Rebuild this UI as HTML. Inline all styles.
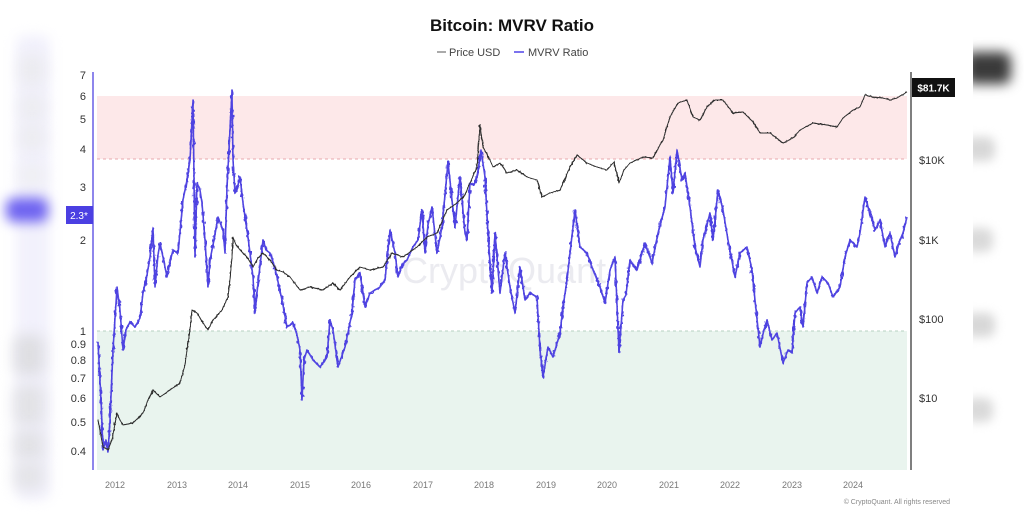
<!DOCTYPE html>
<html><head><meta charset="utf-8"><style>
html,body{margin:0;padding:0;background:#fff;}
body{width:1024px;height:517px;position:relative;overflow:hidden;font-family:"Liberation Sans",sans-serif;}
.b{position:absolute;border-radius:8px;}
svg{position:absolute;left:0;top:0;}
</style></head><body>
<!-- blurred left strip -->
<div class="b" style="left:16px;top:35px;width:34px;height:465px;background:#f2f1fc;filter:blur(6px);"></div>
<div class="b" style="left:20px;top:55px;width:24px;height:30px;background:#ebebef;filter:blur(7px);"></div>
<div class="b" style="left:20px;top:95px;width:24px;height:25px;background:#ececf0;filter:blur(7px);"></div>
<div class="b" style="left:20px;top:125px;width:24px;height:25px;background:#ececf0;filter:blur(7px);"></div>
<div class="b" style="left:20px;top:165px;width:24px;height:20px;background:#efeff2;filter:blur(7px);"></div>
<div class="b" style="left:6px;top:198px;width:42px;height:24px;background:#6e63f0;filter:blur(6px);"></div>
<div class="b" style="left:14px;top:335px;width:30px;height:40px;background:#dedee2;filter:blur(7px);"></div>
<div class="b" style="left:14px;top:385px;width:30px;height:40px;background:#e2e2e6;filter:blur(7px);"></div>
<div class="b" style="left:14px;top:430px;width:30px;height:30px;background:#e2e2e6;filter:blur(7px);"></div>
<div class="b" style="left:14px;top:462px;width:30px;height:28px;background:#e4e4e8;filter:blur(7px);"></div>
<!-- blurred right blobs -->
<div style="position:absolute;left:973px;top:0;width:51px;height:517px;overflow:hidden;">
<div class="b" style="left:-8px;top:52px;width:46px;height:32px;background:#3a3a3a;filter:blur(6px);"></div>
<div class="b" style="left:-8px;top:137px;width:30px;height:24px;background:#d8d8d8;filter:blur(5px);"></div>
<div class="b" style="left:-8px;top:228px;width:28px;height:24px;background:#dadada;filter:blur(5px);"></div>
<div class="b" style="left:-8px;top:313px;width:30px;height:24px;background:#d8d8d8;filter:blur(5px);"></div>
<div class="b" style="left:-8px;top:398px;width:28px;height:24px;background:#dadada;filter:blur(5px);"></div>
</div>
<svg width="1024" height="517" viewBox="0 0 1024 517" xmlns="http://www.w3.org/2000/svg">
<defs>
<clipPath id="pc"><rect x="96" y="70" width="812" height="401"/></clipPath>
<filter id="jb" filterUnits="userSpaceOnUse" x="80" y="60" width="850" height="420">
<feTurbulence type="fractalNoise" baseFrequency="0.35 0.2" numOctaves="2" seed="7" result="n"/>
<feDisplacementMap in="SourceGraphic" in2="n" scale="5" xChannelSelector="R" yChannelSelector="G"/>
</filter>
<filter id="jk" filterUnits="userSpaceOnUse" x="80" y="60" width="850" height="420">
<feTurbulence type="fractalNoise" baseFrequency="0.4 0.25" numOctaves="2" seed="3" result="n"/>
<feDisplacementMap in="SourceGraphic" in2="n" scale="3" xChannelSelector="R" yChannelSelector="G"/>
</filter>
<polyline id="pb" fill="none" stroke-linejoin="round" points="98,342 101,400 103,450 106,440 108,452 110,420 113,350 117,287 120,310 123,350 126,330 130,322 135,327 140,318 143,293 147,275 150,257 153,228 155,287 158,255 160,243 164,262 167,277 170,262 173,250 178,253 183,200 187,180 190,160 193,100 195,257 197,183 200,190 202,203 205,240 208,287 210,260 214,240 218,217 223,230 225,253 227,187 230,130 232,90 233,160 235,193 238,185 240,177 243,203 248,237 253,277 255,313 258,283 263,240 266,250 270,253 274,265 277,277 282,300 287,327 293,323 297,335 300,350 302,400 304,360 307,350 313,360 320,367 327,357 330,320 333,330 338,367 345,347 352,313 355,280 360,273 365,307 370,293 375,290 380,287 385,280 390,230 395,253 398,277 402,265 407,260 413,247 418,240 422,210 425,253 428,225 432,207 437,253 442,227 448,162 452,200 455,227 460,177 465,233 467,240 470,183 474,185 477,177 481,150 485,177 488,233 492,293 495,233 500,293 505,253 510,287 515,313 520,267 525,300 530,293 537,297 540,350 543,377 548,347 553,357 560,333 563,307 567,280 570,253 575,210 580,247 587,253 593,270 600,287 605,303 610,270 615,257 619,352 623,300 626,295 630,260 637,270 645,243 652,263 658,233 665,207 670,157 673,193 677,150 682,180 685,173 690,207 695,247 700,267 703,240 710,213 713,240 718,190 723,210 728,240 735,277 740,253 747,247 752,270 755,300 760,347 764,330 767,320 772,340 777,333 783,363 788,350 792,353 795,313 800,307 803,327 807,283 812,277 817,293 822,277 828,283 833,297 840,287 845,257 850,240 857,247 860,233 865,197 870,213 875,230 880,220 885,247 890,233 895,257 900,240 903,233 907,217"/>
<polyline id="pk" fill="none" stroke-linejoin="round" points="98,420 103,447 108,450 112,440 117,413 120,420 123,425 133,423 143,413 148,400 153,390 160,397 170,390 180,383 185,365 187,350 190,330 192,310 197,313 203,323 208,330 213,320 222,310 228,297 230,280 232,257 233,237 236,245 240,250 247,257 253,267 258,258 263,253 270,260 277,270 283,272 290,277 300,290 310,287 323,290 333,283 340,290 350,277 360,267 370,270 383,267 392,253 403,257 417,247 427,237 437,233 447,210 457,203 465,195 470,183 477,167 480,125 483,147 490,160 493,167 500,163 507,173 517,170 527,177 537,180 542,197 550,193 560,190 570,167 577,155 587,163 597,167 607,170 614,162 619,183 624,170 630,163 643,157 653,158 660,145 663,140 670,117 678,103 687,100 693,117 700,120 707,107 715,100 723,100 733,113 743,112 753,122 760,133 770,133 783,143 793,138 800,130 813,123 827,125 837,127 843,118 853,110 860,107 865,95 873,97 883,98 890,100 897,98 902,95 907,92"/>
</defs>
<text x="512" y="31" text-anchor="middle" font-family="Liberation Sans, sans-serif" font-weight="bold" font-size="17" fill="#111">Bitcoin: MVRV Ratio</text>
<line x1="437" y1="52" x2="446" y2="52" stroke="#aaa" stroke-width="2"/>
<text x="449" y="56" font-family="Liberation Sans, sans-serif" font-size="11" fill="#444">Price USD</text>
<line x1="514" y1="52" x2="524" y2="52" stroke="#7b72ee" stroke-width="2"/>
<text x="528" y="56" font-family="Liberation Sans, sans-serif" font-size="11" fill="#444">MVRV Ratio</text>
<!-- zones -->
<rect x="97" y="96" width="810" height="63" fill="#fde8e9"/>
<line x1="97" y1="159" x2="907" y2="159" stroke="#e8a9ad" stroke-width="1" stroke-dasharray="3,3"/>
<rect x="97" y="331" width="810" height="139" fill="#e9f4ee"/>
<line x1="97" y1="331" x2="907" y2="331" stroke="#b7d2c2" stroke-width="1" stroke-dasharray="3,3"/>
<!-- watermark -->
<text x="402" y="283" font-family="Liberation Sans, sans-serif" font-size="36" fill="#ebebf0">CryptoQuant</text>
<!-- axes -->
<line x1="93" y1="72" x2="93" y2="470" stroke="#8e86ec" stroke-width="2"/>
<line x1="911" y1="72" x2="911" y2="470" stroke="#555" stroke-width="1.5"/>
<g font-family="Liberation Sans, sans-serif" font-size="11" fill="#333" text-anchor="end">
<text x="86" y="79">7</text><text x="86" y="100">6</text><text x="86" y="123">5</text><text x="86" y="153">4</text>
<text x="86" y="191">3</text><text x="86" y="244">2</text><text x="86" y="335">1</text><text x="86" y="348">0.9</text>
<text x="86" y="364">0.8</text><text x="86" y="382">0.7</text><text x="86" y="402">0.6</text><text x="86" y="426">0.5</text><text x="86" y="455">0.4</text>
</g>
<rect x="66" y="206" width="27" height="18" fill="#4b3fe2"/>
<text x="79" y="219" text-anchor="middle" font-family="Liberation Sans, sans-serif" font-size="10" fill="#fff">2.3*</text>
<g font-family="Liberation Sans, sans-serif" font-size="11" fill="#333">
<text x="919" y="164">$10K</text><text x="919" y="244">$1K</text><text x="919" y="323">$100</text><text x="919" y="402">$10</text>
</g>
<rect x="912" y="78" width="43" height="19" fill="#111"/>
<text x="933.5" y="91.5" text-anchor="middle" font-family="Liberation Sans, sans-serif" font-size="10" font-weight="bold" fill="#fff">$81.7K</text>
<g font-family="Liberation Sans, sans-serif" font-size="9" fill="#777" text-anchor="middle">
<text x="115" y="488">2012</text><text x="177" y="488">2013</text><text x="238" y="488">2014</text><text x="300" y="488">2015</text>
<text x="361" y="488">2016</text><text x="423" y="488">2017</text><text x="484" y="488">2018</text><text x="546" y="488">2019</text>
<text x="607" y="488">2020</text><text x="669" y="488">2021</text><text x="730" y="488">2022</text><text x="792" y="488">2023</text><text x="853" y="488">2024</text>
</g>
<text x="950" y="504" text-anchor="end" font-family="Liberation Sans, sans-serif" font-size="7" fill="#888">© CryptoQuant. All rights reserved</text>
<g clip-path="url(#pc)">
<use href="#pb" stroke="#5a4fe4" stroke-width="1.6"/>
<g filter="url(#jb)"><use href="#pb" stroke="#4e42e0" stroke-width="1.6"/></g>
<use href="#pk" stroke="#444" stroke-width="0.9"/>
<g filter="url(#jk)"><use href="#pk" stroke="#2a2a2a" stroke-width="0.9"/></g>
</g>
</svg>
</body></html>
